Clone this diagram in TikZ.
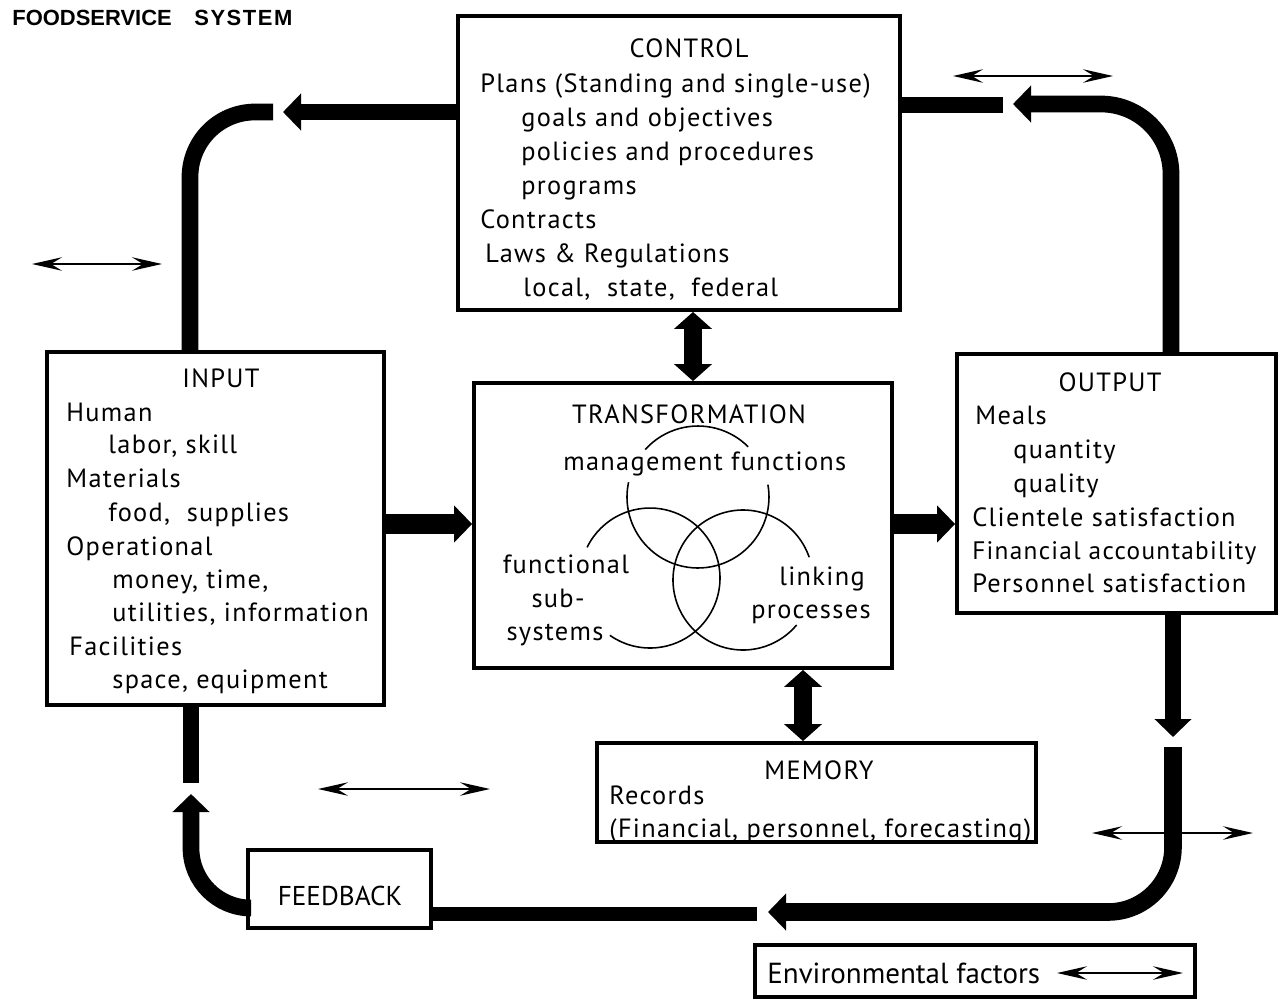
\documentclass[tikz,border=0pt]{standalone}
\usepackage{fontspec}
\setmainfont[LetterSpace=5]{PT Sans}
\newfontfamily\plainfont{PT Sans}
\newfontfamily\titlefont{Liberation Sans}
\usetikzlibrary{arrows.meta}

% one line of text: name, left x, middle y, text
\newcommand\txtline[4]{\node[txt, anchor=base west] (#1) at (#2,{-(#3+10)}) {#4};}
% one centred line of text: name, centre x, middle y, text
\newcommand\txtmid[4]{\node[txt, anchor=base] (#1) at (#2,{-(#3+10)}) {#4};}

\begin{document}
\begin{tikzpicture}[x=0.02cm, y=0.02cm,
  box/.style={draw, line width=2.2pt, inner sep=0pt},
  txt/.style={inner sep=0pt, font=\fontsize{15}{18}\selectfont},
  bigline/.style={line width=9.5pt},
  bigarrow/.style={line width=9.5pt, -{Triangle[width=0.72cm, length=0.36cm]}},
  bigboth/.style={line width=10.5pt, {Triangle[width=0.74cm, length=0.34cm]}-{Triangle[width=0.74cm, length=0.34cm]}},
  envarrow/.style={line width=1.1pt, {Stealth[length=0.6cm, width=0.27cm, inset=0.22cm]}-{Stealth[length=0.6cm, width=0.27cm, inset=0.22cm]}},
  venn/.style={line width=0.9pt}
]
\useasboundingbox (0,0) rectangle (1281,-1001);

% title
\node[inner sep=0pt, anchor=base west, font=\titlefont\bfseries\fontsize{12.5}{14}\selectfont] (title1) at (12,-25) {FOODSERVICE};
\node[inner sep=0pt, anchor=base west, font=\titlefont\bfseries\fontsize{12.5}{14}\selectfont\addfontfeature{LetterSpace=7}] (title2) at (194,-25) {SYSTEM};

% boxes
\node[box, minimum width=8.84cm, minimum height=5.88cm] (control) at (679,-163) {};
\node[box, minimum width=6.74cm, minimum height=7.06cm] (input) at (215.5,-528.5) {};
\node[box, minimum width=8.36cm, minimum height=5.70cm] (trans) at (683,-525.5) {};
\node[box, minimum width=6.38cm, minimum height=5.18cm] (output) at (1116.5,-483.5) {};
\node[box, minimum width=8.78cm, minimum height=1.98cm] (memory) at (816.5,-792.5) {};
\node[box, minimum width=3.66cm, minimum height=1.56cm] (feedback) at (339.5,-889) {};
\node[box, minimum width=8.80cm, minimum height=1.04cm] (env) at (975,-971) {};

% CONTROL
\txtmid{c0}{689}{47}{CONTROL}
\txtline{c1}{480}{82}{Plans (Standing and single-use)}
\txtline{c2}{521}{116}{goals and objectives}
\txtline{c3}{521}{150}{policies and procedures}
\txtline{c4}{521}{184}{programs}
\txtline{c5}{480}{218}{Contracts}
\txtline{c6}{485}{252}{Laws \& Regulations}
\txtline{c7}{523}{286}{local,\ \ state,\ \ federal}

% INPUT
\txtmid{i0}{221}{377}{INPUT}
\txtline{i1}{66}{411}{Human}
\txtline{i2}{108}{443}{labor, skill}
\txtline{i3}{66}{477}{Materials}
\txtline{i4}{108}{511}{food,\ \ supplies}
\txtline{i5}{66}{545}{Operational}
\txtline{i6}{112}{578}{money, time,}
\txtline{i7}{112}{611}{utilities, information}
\txtline{i8}{69}{645}{Facilities}
\txtline{i9}{112}{678}{space, equipment}

% TRANSFORMATION
\txtmid{t0}{689}{413}{TRANSFORMATION}
\txtline{t1}{563}{460}{management functions}
\txtmid{t2}{566}{563}{functional}
\txtmid{t3}{558}{597}{sub-}
\txtmid{t4}{555}{630}{systems}
\txtmid{t5}{822}{575}{linking}
\txtmid{t6}{811}{608}{processes}

% overlapping circles
\draw[venn] ([shift={(45:1.42cm)}]698,-497) arc[start angle=45, end angle=138, radius=1.42cm];
\draw[venn] ([shift={(168:1.42cm)}]698,-497) arc[start angle=168, end angle=370, radius=1.42cm];
\draw[venn] ([shift={(235:1.40cm)}]650,-578) arc[start angle=235, end angle=514, radius=1.40cm];
\draw[venn] ([shift={(19:1.40cm)}]743,-580) arc[start angle=19, end angle=320, radius=1.40cm];

% OUTPUT
\txtmid{o0}{1110}{381}{OUTPUT}
\txtline{o1}{975}{414}{Meals}
\txtline{o2}{1013}{448}{quantity}
\txtline{o3}{1013}{482}{quality}
\txtline{o4}{972}{516}{Clientele satisfaction}
\node[txt, anchor=base west, font=\fontsize{14.4}{18}\selectfont] (o5) at (972,-559) {Financial accountability};
\txtline{o6}{972}{582}{Personnel satisfaction}

% MEMORY
\txtmid{m0}{819}{769}{MEMORY}
\txtline{m1}{609}{794}{Records}
\txtline{m2}{609}{827}{(Financial, personnel, forecasting)}

% FEEDBACK
\node[inner sep=0pt, anchor=base, font=\plainfont\fontsize{15.5}{18}\selectfont] (fbt) at (340,-905) {FEEDBACK};

% Environmental factors
\node[inner sep=0pt, anchor=base west, font=\plainfont\fontsize{16.5}{20}\selectfont] (envt) at (767,-983) {Environmental factors};
\coordinate (e5a) at (1057,-973);
\coordinate (e5b) at (1183,-973);
\draw[envarrow] (e5a) -- (e5b);

% free-standing environment arrows
\coordinate (e1a) at (953,-76);  \coordinate (e1b) at (1113,-76);
\coordinate (e2a) at (32,-264);  \coordinate (e2b) at (162,-264);
\coordinate (e3a) at (318,-789); \coordinate (e3b) at (490,-789);
\coordinate (e4a) at (1092,-833);\coordinate (e4b) at (1253,-833);
\draw[envarrow] (e1a) -- (e1b);
\draw[envarrow] (e2a) -- (e2b);
\draw[envarrow] (e3a) -- (e3b);
\draw[envarrow] (e4a) -- (e4b);

% control -> input loop
\coordinate (tlT) at (283,-112);
\coordinate (tlS) at (273,-112);
\coordinate (tlC) at (190,-112);
\draw[bigarrow] (control.west |- tlT) -- (tlT);
\draw[bigline, rounded corners=1.3cm] (tlS) -- (tlC) -- (tlC |- input.north);

% output -> control loop
\coordinate (trB) at (1003,-105);
\coordinate (trT) at (1013,-104);
\coordinate (trC) at (1171,-104);
\draw[bigline] (control.east |- trB) -- (trB);
\draw[bigarrow, rounded corners=1.4cm] (trC |- output.north) -- (trC) -- (trT);

% main flow
\coordinate (mid) at (0,-524);
\draw[bigarrow, line width=11pt] (input.east |- mid) -- (trans.west |- mid);
\draw[bigarrow, line width=11pt] (trans.east |- mid) -- (output.west |- mid);

% control <-> transformation <-> memory
\coordinate (v1) at (693,0);
\coordinate (v2) at (803,0);
\draw[bigboth] (control.south -| v1) -- (trans.north -| v1);
\draw[bigboth] (trans.south -| v2) -- (memory.north -| v2);

% output -> feedback
\coordinate (odT) at (1173,-737);
\coordinate (odS) at (1173,-747);
\coordinate (odC) at (1173,-912);
\coordinate (fbT) at (768,-912);
\coordinate (fbB) at (757,-914);
\draw[bigarrow] (output.south -| odT) -- (odT);
\draw[bigarrow, line width=10pt, rounded corners=1.3cm] (odS) -- (odC) -- (fbT);
\draw[bigline, line width=8.5pt] (feedback.east |- fbB) -- (fbB);

% feedback -> input
\coordinate (fiC) at (191,-908);
\coordinate (fiT) at (191,-794);
\coordinate (fiB) at (191,-783);
\draw[bigarrow, rounded corners=1.2cm] (feedback.west |- fiC) -- (fiC) -- (fiT);
\draw[bigline] (input.south -| fiB) -- (fiB);
\end{tikzpicture}
\end{document}
